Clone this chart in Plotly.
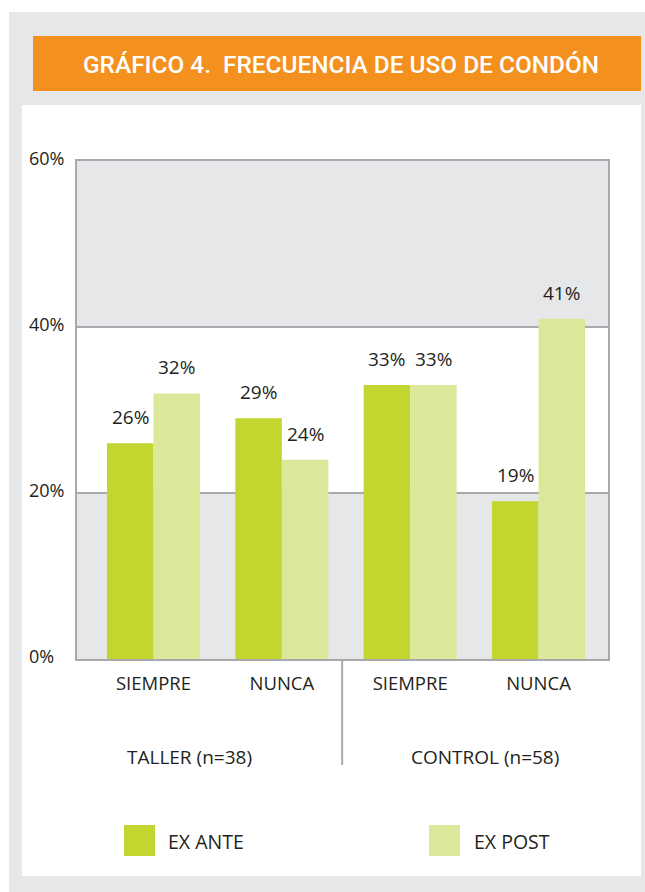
import plotly.graph_objects as go

# ---- data ----
categories = ["SIEMPRE", "NUNCA", "SIEMPRE", "NUNCA"]
groups = ["TALLER (n=38)", "CONTROL (n=58)"]
ex_ante = [26, 29, 33, 19]
ex_post = [32, 24, 33, 41]
series_names = ["EX ANTE", "EX POST"]
y_ticks = [0, 20, 40, 60]
title_text = "GRÁFICO 4.  FRECUENCIA DE USO DE CONDÓN"

# ---- style ----
W, H = 645, 892
L, R, T, B = 77, 608, 161, 659   # plot area in pixels
C_ANTE = "#c2d62f"
C_POST = "#dde79a"
C_GRAY = "#e6e7e9"
C_LINE = "#a7a9ac"
C_ORANGE = "#f4901e"
C_TEXT = "#231f20"
FONT = "Open Sans, Noto Sans, sans-serif"
TFONT = "Roboto, sans-serif"
BARGAP = 0.275


def px(x):
    return (x - L) / (R - L)


def py(y):
    return (B - y) / (B - T)


xs = list(range(len(categories)))
# x range: first group centre at 153.5px, last at 538.5px
unit = (538.5 - 153.5) / 3
xr = [(L - 153.5) / unit, (R - 153.5) / unit]

fig = go.Figure()
fig.add_trace(go.Bar(x=xs, y=ex_ante, name=series_names[0], marker=dict(color=C_ANTE, line=dict(width=0))))
fig.add_trace(go.Bar(x=xs, y=ex_post, name=series_names[1], marker=dict(color=C_POST, line=dict(width=0))))

shapes = []
# outer frame, white panel, orange banner
shapes.append(dict(type="rect", xref="paper", yref="paper", x0=px(9), x1=px(660), y0=py(900), y1=py(12),
                   fillcolor=C_GRAY, line=dict(width=0), layer="below"))
shapes.append(dict(type="rect", xref="paper", yref="paper", x0=px(22), x1=px(641), y0=py(876), y1=py(105),
                   fillcolor="white", line=dict(width=0), layer="below"))
shapes.append(dict(type="rect", xref="paper", yref="paper", x0=px(33), x1=px(641), y0=py(91), y1=py(36),
                   fillcolor=C_ORANGE, line=dict(width=0), layer="below"))
# alternating bands
for lo, hi in [(y_ticks[0], y_ticks[1]), (y_ticks[2], y_ticks[3])]:
    shapes.append(dict(type="rect", xref="paper", yref="y", x0=0, x1=1, y0=lo, y1=hi,
                       fillcolor=C_GRAY, line=dict(width=0), layer="below"))
# divider between groups
shapes.append(dict(type="line", xref="x", yref="paper", x0=1.47, x1=1.47, y0=py(765), y1=0,
                   line=dict(color=C_LINE, width=2)))
# legend squares
shapes.append(dict(type="rect", xref="paper", yref="paper", x0=px(124), x1=px(155), y0=py(856), y1=py(825),
                   fillcolor=C_ANTE, line=dict(width=0)))
shapes.append(dict(type="rect", xref="paper", yref="paper", x0=px(429), x1=px(460), y0=py(856), y1=py(825),
                   fillcolor=C_POST, line=dict(width=0)))

ann = []
ann.append(dict(text=title_text, xref="paper", yref="paper", x=px(341), y=py(64), showarrow=False,
                xanchor="center", yanchor="middle",
                font=dict(family=TFONT, size=24.4, weight=500, color="white")))
# value labels
half = (1 - BARGAP) / 4
for i, (a, p) in enumerate(zip(ex_ante, ex_post)):
    ann.append(dict(text=f"{a}%", x=i - half, y=a, xref="x", yref="y", showarrow=False,
                    yanchor="middle", yshift=26, font=dict(family=FONT, size=19, color=C_TEXT)))
    ann.append(dict(text=f"{p}%", x=i + half, y=p, xref="x", yref="y", showarrow=False,
                    yanchor="middle", yshift=26, font=dict(family=FONT, size=19, color=C_TEXT)))
# y tick labels (left aligned)
for t in y_ticks:
    ann.append(dict(text=f"{t}%", x=px(27), y=t, xref="paper", yref="y", showarrow=False,
                    xanchor="left", yanchor="middle", yshift=3, font=dict(family=FONT, size=18, color=C_TEXT)))
# group labels
for g, cx in zip(groups, [189, 485]):
    ann.append(dict(text=g, x=px(cx), y=py(757), xref="paper", yref="paper", showarrow=False,
                    xanchor="center", yanchor="middle", font=dict(family=FONT, size=19, color=C_TEXT)))
# legend labels
for name, lx in zip(series_names, [166, 472]):
    ann.append(dict(text=name, x=px(lx), y=py(841), xref="paper", yref="paper", showarrow=False,
                    xanchor="left", yanchor="middle", font=dict(family=FONT, size=19.5, color=C_TEXT)))

fig.update_layout(
    width=W, height=H,
    margin=dict(l=L, r=W - R, t=T, b=H - B, pad=0),
    paper_bgcolor="white", plot_bgcolor="rgba(0,0,0,0)",
    barmode="group", bargap=BARGAP, bargroupgap=0,
    showlegend=False,
    shapes=shapes, annotations=ann,
    xaxis=dict(range=xr, tickvals=xs, ticktext=categories, showgrid=False, zeroline=False,
               showline=True, linecolor=C_LINE, linewidth=2, mirror=True,
               ticks="outside", ticklen=7, tickcolor="rgba(0,0,0,0)",
               tickfont=dict(family=FONT, size=18.5, color=C_TEXT)),
    yaxis=dict(range=[y_ticks[0], y_ticks[-1]], tickvals=y_ticks, showticklabels=False,
               showgrid=True, gridcolor=C_LINE, gridwidth=2, zeroline=False,
               showline=True, linecolor=C_LINE, linewidth=2, mirror=True, ticks=""),
)

fig.write_html("out.html", config={"displayModeBar": False},
               post_script="document.body.style.margin='0';document.body.style.overflow='hidden';")
